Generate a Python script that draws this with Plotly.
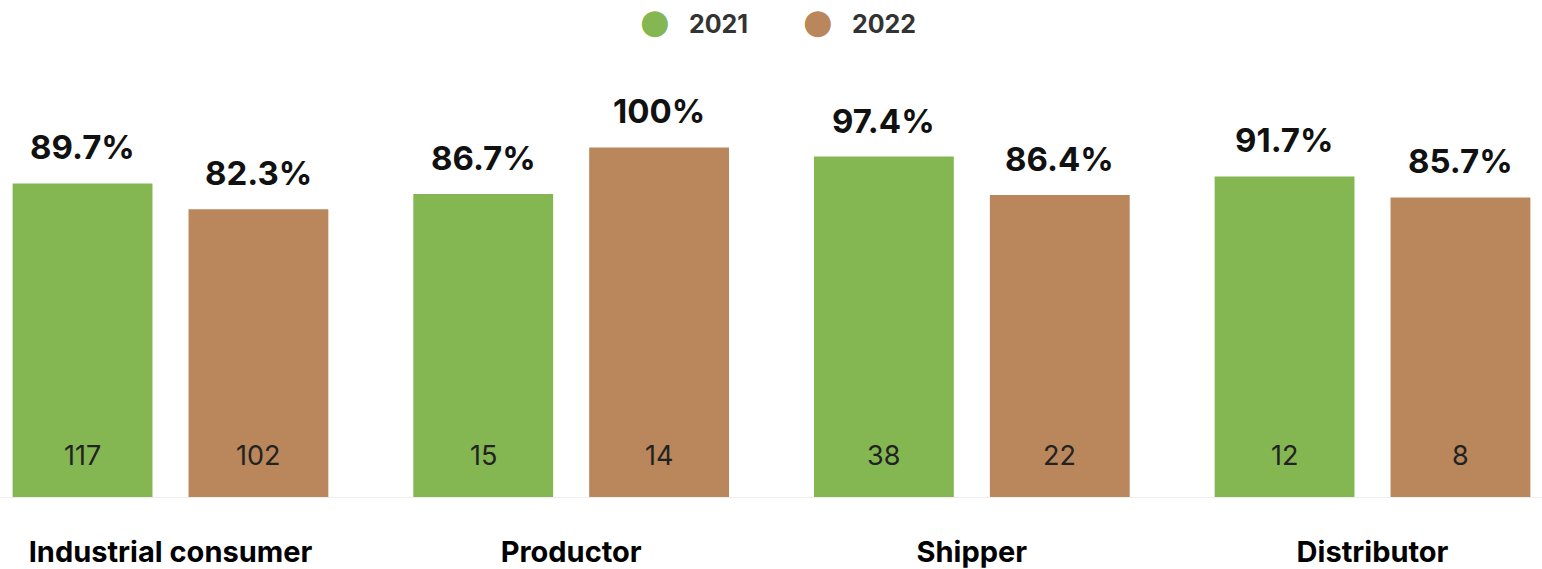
import plotly.graph_objects as go

categories = ["Industrial consumer", "Productor", "Shipper", "Distributor"]
series_names = ["2021", "2022"]
pct_2021 = [89.7, 86.7, 97.4, 91.7]
pct_2022 = [82.3, 100, 86.4, 85.7]
pct_labels_2021 = ["89.7%", "86.7%", "97.4%", "91.7%"]
pct_labels_2022 = ["82.3%", "100%", "86.4%", "85.7%"]
count_2021 = [117, 15, 38, 12]
count_2022 = [102, 14, 22, 8]
colors = ["#84B752", "#B9875B"]

FONT = "Inter"
TOP = 63
BOT = 69
PH = 569 - TOP - BOT

fig = go.Figure()
for name, vals, col in zip(series_names, [pct_2021, pct_2022], colors):
    fig.add_trace(go.Bar(x=categories, y=vals, name=name, marker=dict(color=col, line=dict(width=0)),
                         showlegend=False, hoverinfo="skip"))

off = 88  # pixel offset of each bar centre from the category centre
annotations = []
for i, cat in enumerate(categories):
    for s, (vals, labs, cnts) in enumerate([(pct_2021, pct_labels_2021, count_2021),
                                             (pct_2022, pct_labels_2022, count_2022)]):
        xs = -off if s == 0 else off
        annotations.append(dict(x=cat, y=vals[i], xref="x", yref="y", text=f"<b>{labs[i]}</b>",
                                showarrow=False, xshift=xs, yshift=36, yanchor="middle",
                                font=dict(family=FONT, size=33, color="#111111")))
        annotations.append(dict(x=cat, y=0, xref="x", yref="y", text=str(cnts[i]),
                                showarrow=False, xshift=xs, yshift=42, yanchor="middle",
                                font=dict(family=FONT, size=27, color="#222222")))

# legend built from annotations (large circle markers)
leg_x = [655, 818]
for name, col, lx in zip(series_names, colors, leg_x):
    annotations.append(dict(x=lx / 1542, y=1 + (TOP - 21) / PH, xref="paper", yref="paper",
                            text="●", showarrow=False, xanchor="center", yanchor="middle",
                            font=dict(family="DejaVu Sans", size=34, color=col)))
    annotations.append(dict(x=(lx + 32) / 1542, y=1 + (TOP - 24) / PH, xref="paper", yref="paper",
                            text=f"<b>{name}</b>", showarrow=False, xanchor="left", yanchor="middle",
                            font=dict(family=FONT, size=25, color="#333333")))

fig.update_layout(
    width=1542, height=569,
    margin=dict(l=0, r=0, t=TOP, b=BOT),
    paper_bgcolor="white", plot_bgcolor="white",
    barmode="group", bargap=0.122, bargroupgap=0.205,
    showlegend=False,
    annotations=annotations,
    xaxis=dict(range=[-0.4255, 3.423], showgrid=False, showline=False, ticks="",
               ticklabelstandoff=35,
               tickfont=dict(family=FONT, size=29, color="#000000"),
               tickvals=categories, ticktext=[f"<b>{c}</b>" for c in categories]),
    yaxis=dict(range=[0, PH / 3.52], visible=True, showgrid=False, showticklabels=False,
               zeroline=True, zerolinecolor="#eeeeee", zerolinewidth=1, showline=False, ticks=""),
)

fig.write_html("out.html", config={"displayModeBar": False},
               post_script="document.body.style.margin='0';")
